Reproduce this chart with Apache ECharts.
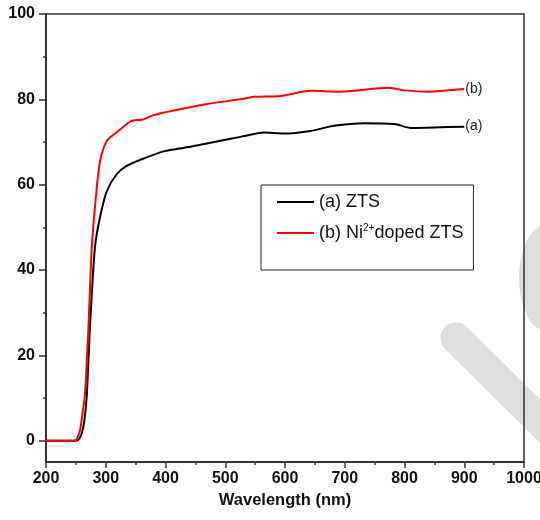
<!DOCTYPE html>
<html>
<head>
<meta charset="UTF-8">
<title>Transmittance ZTS</title>
<script src="https://cdn.jsdelivr.net/npm/echarts@6/dist/echarts.min.js"></script>
<style>
  html, body { margin: 0; padding: 0; background: #fff; }
  #main { width: 540px; height: 520px; }
</style>
</head>
<body>
<div id="main"></div>
<script type="text/javascript">
// values
var wlA = [200, 250, 255, 260, 264, 268, 273.6, 282, 290.6, 301.8, 318.6, 335, 357.7, 396.8, 441.6, 492, 525.5, 565, 598, 643, 682, 732, 783, 811, 850, 900];
var tA  = [0, 0, 0.3, 1.8, 4.5, 10, 26.7, 45.5, 52.5, 58.5, 62.5, 64.4, 65.8, 67.8, 68.9, 70.3, 71.2, 72.2, 72.0, 72.6, 73.8, 74.4, 74.2, 73.3, 73.4, 73.6];

var wlB = [200, 248, 252, 257, 261, 265, 271, 276.6, 285, 290.6, 301.8, 321, 341, 348, 360, 380, 413.6, 469.6, 525.5, 548, 593, 643, 693, 772, 800, 839, 900];
var tB  = [0, 0, 0.5, 2.5, 6.4, 10.5, 26.5, 45.3, 59.3, 65.6, 70.3, 72.6, 74.8, 75.1, 75.2, 76.3, 77.4, 78.9, 80.0, 80.6, 80.8, 82.0, 81.8, 82.7, 82.1, 81.8, 82.4];

var nameA = '(a) ZTS';
var nameB = '(b) Ni2+doped ZTS';
var yMajor = [0, 20, 40, 60, 80, 100];
var yMinor = [10, 30, 50, 70, 90];

function pairs(xs, ys) {
    var out = [];
    for (var i = 0; i < xs.length; i++) {
        out.push([xs[i], ys[i]]);
    }
    return out;
}

var FONT = "'Liberation Sans', Arial, sans-serif";
var AX = '#333';

var myChart = echarts.init(document.getElementById('main'));

var option = {
    animation: false,
    backgroundColor: '#fff',
    grid: {
        left: 46, right: 16, top: 14, bottom: 58,
        outerBoundsMode: 'none',
        containLabel: false,
        show: true, borderColor: AX, borderWidth: 1.5, backgroundColor: 'transparent'
    },
    graphic: [
        // grey watermark marks from the scan
        { type: 'line', z: -10, shape: { x1: 456, y1: 338, x2: 650, y2: 530 },
          style: { stroke: '#dedede', lineWidth: 31, lineCap: 'round' } },
        { type: 'circle', z: -10, x: 546, y: 278, scaleX: 27 / 53,
          shape: { cx: 0, cy: 0, r: 53 }, style: { fill: '#dedede' } }
    ],
    legend: {
        orient: 'vertical',
        left: 261, top: 185,
        borderColor: '#222', borderWidth: 1,
        padding: [7, 10, 27, 16],
        itemGap: 11,
        itemWidth: 37, itemHeight: 2,
        icon: 'rect',
        data: [nameA, nameB],
        formatter: function (name) {
            if (name === nameB) return '(b) Ni{sup|2+}doped ZTS';
            return name;
        },
        textStyle: {
            fontFamily: FONT, fontSize: 18, color: '#111', lineHeight: 20,
            rich: {
                sup: { fontSize: 10, fontFamily: FONT, color: '#111', padding: [0, 0, 9, 0] }
            }
        }
    },
    xAxis: {
        type: 'value',
        min: 200, max: 1000, interval: 100,
        name: 'Wavelength (nm)',
        nameLocation: 'middle',
        nameGap: 30,
        nameTextStyle: { fontFamily: FONT, fontSize: 16.5, fontWeight: 'bold', color: '#111' },
        axisLine: { show: true, onZero: false, lineStyle: { color: AX, width: 2 } },
        axisTick: { show: true, length: 6, lineStyle: { color: AX, width: 1.5 } },
        minorTick: { show: true, splitNumber: 2, length: 3, lineStyle: { color: AX, width: 1.5 } },
        axisLabel: {
            fontFamily: FONT, fontSize: 16, fontWeight: 'bold', color: '#111', margin: 9,
            formatter: function (v) { return String(v); }
        },
        splitLine: { show: false }
    },
    yAxis: [
        {
            type: 'value',
            min: -5, max: 100,
            axisLine: { show: true, onZero: false, lineStyle: { color: AX, width: 2 } },
            axisTick: { show: true, length: 7, customValues: yMajor, lineStyle: { color: AX, width: 1.5 } },
            axisLabel: { customValues: yMajor, fontFamily: FONT, fontSize: 16, fontWeight: 'bold', color: '#111', margin: 11 },
            splitLine: { show: false }
        },
        {
            type: 'value',
            min: -5, max: 100,
            position: 'left',
            axisLine: { show: false },
            axisTick: { show: true, length: 3, customValues: yMinor, lineStyle: { color: AX, width: 1.5 } },
            axisLabel: { show: false },
            splitLine: { show: false }
        }
    ],
    series: [
        {
            name: nameA,
            type: 'line',
            data: pairs(wlA, tA),
            symbol: 'none',
            smooth: 0.25,
            color: '#000',
            lineStyle: { color: '#000', width: 2 },
            endLabel: { show: true, formatter: '(a)', distance: 1, fontFamily: FONT, fontSize: 14, color: '#222' }
        },
        {
            name: nameB,
            type: 'line',
            data: pairs(wlB, tB),
            symbol: 'none',
            smooth: 0.25,
            color: '#f00',
            lineStyle: { color: '#f00', width: 2 },
            endLabel: { show: true, formatter: '(b)', distance: 1, fontFamily: FONT, fontSize: 14, color: '#222' }
        }
    ]
};

myChart.setOption(option);
</script>
</body>
</html>
